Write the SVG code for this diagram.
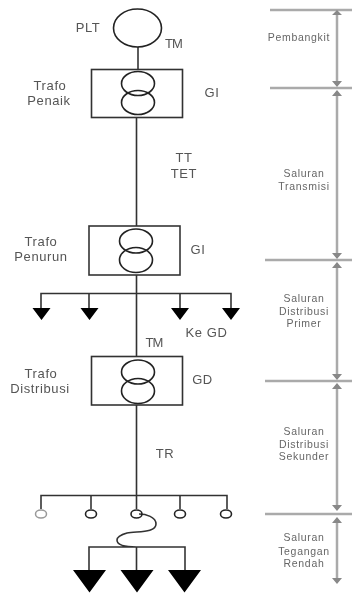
<svg xmlns="http://www.w3.org/2000/svg" width="352" height="593" viewBox="0 0 352 593">
<defs><filter id="b" x="-5%" y="-5%" width="110%" height="110%"><feGaussianBlur stdDeviation="0.45"/></filter></defs>
<style>
.s{fill:none;stroke:#333;stroke-width:1.6}
.c{fill:none;stroke:#222;stroke-width:1.6}
.g{fill:none;stroke:#aaa;stroke-width:2.500}
.a{fill:#888}
.k{fill:#000}
text{font-family:"Liberation Sans",Arial,sans-serif;font-size:13px;letter-spacing:.6px;fill:#555;text-anchor:middle}
.r{font-size:10.500px;letter-spacing:.7px;fill:#666}
.t{font-size:13px;letter-spacing:-1px}
</style>
<rect width="352" height="593" fill="#fff"/>
<g filter="url(#b)">
<g id="connectors">
<path class="s" d="M138 47V70M136.500 117V226M136.500 275V356M136.500 405V495"/>
<path class="s" d="M41 308V293.500H231V308M89 293.500V308M180 293.500V308"/>
<path class="s" d="M41 509V495.500H227V509M91 495.500V509M136.500 495.500V509M180 495.500V509"/>
<path class="s" d="M139 514C146 514 156 517 156 524C156 533 137 531 127 533C120 535 117 537 117 540C117 545 125 547 136.500 547M89 570V547H185V570M136.500 547V570"/>
<path class="g" d="M337 14V82M337 94V254M337 266V375M337 387V508M337 520V580"/>
<path class="g" d="M270 10H352M270 88H352M265 260H352M265 381H352M265 514H352"/>
<path class="a" d="M337 10l-5 5h10zM337 87l-5-6h10zM337 90l-5 6h10zM337 259l-5-6h10zM337 262l-5 6h10zM337 380l-5-6h10zM337 383l-5 6h10zM337 511l-5-6h10zM337 517l-5 6h10zM337 584l-5-6h10z"/>
</g>
<g id="plt"><ellipse class="c" cx="137.500" cy="28" rx="24" ry="19"/><text x="88" y="32">PLT</text><text class="t" x="173.500" y="48">TM</text></g>
<g id="trafo-penaik"><rect class="s" x="91.500" y="69.500" width="91" height="48"/><ellipse class="c" cx="138" cy="83.500" rx="16.500" ry="12"/><ellipse class="c" cx="138" cy="102.500" rx="16.500" ry="12"/><text x="50" y="90">Trafo</text><text x="49" y="105">Penaik</text><text x="212" y="97">GI</text></g>
<g id="tt-label"><text x="184" y="162">TT</text><text x="184" y="177.500">TET</text></g>
<g id="trafo-penurun"><rect class="s" x="89" y="226" width="91" height="49"/><ellipse class="c" cx="136" cy="241" rx="16.500" ry="12"/><ellipse class="c" cx="136" cy="260" rx="16.500" ry="12.500"/><text x="41" y="246">Trafo</text><text x="41" y="261">Penurun</text><text x="198" y="254">GI</text></g>
<g id="beban-gi"><path class="k" d="M32.500 308h18l-9 12zM80.500 308h18l-9 12zM171 308h18l-9 12zM222 308h18l-9 12z"/><text x="206.500" y="337">Ke GD</text><text class="t" x="154" y="347">TM</text></g>
<g id="trafo-distribusi"><rect class="s" x="91.500" y="356.500" width="91" height="48.500"/><ellipse class="c" cx="138" cy="372" rx="16.500" ry="12"/><ellipse class="c" cx="138" cy="391" rx="16.500" ry="12.500"/><text x="41" y="378">Trafo</text><text x="40" y="393">Distribusi</text><text x="202.500" y="384">GD</text></g>
<g id="tr-label"><text x="165" y="458">TR</text></g>
<g id="beban-tr"><ellipse cx="41" cy="514" rx="5.500" ry="4" fill="#fff" stroke="#999" stroke-width="1.500"/><ellipse class="c" cx="91" cy="514" rx="5.500" ry="4"/><ellipse class="c" cx="136.500" cy="514" rx="5.500" ry="4"/><ellipse class="c" cx="180" cy="514" rx="5.500" ry="4"/><ellipse class="c" cx="226" cy="514" rx="5.500" ry="4"/></g>
<g id="beban-tr-bawah"><path class="k" d="M73 570h33l-16.500 22.500zM120.500 570h33l-16.500 22.500zM168 570h33l-16.500 22.500z"/></g>
<g id="sisi-label">
<text class="r" x="299" y="41">Pembangkit</text>
<text class="r" x="304" y="177">Saluran</text><text class="r" x="304" y="190">Transmisi</text>
<text class="r" x="304" y="302">Saluran</text><text class="r" x="304" y="314.500">Distribusi</text><text class="r" x="304" y="327">Primer</text>
<text class="r" x="304" y="435">Saluran</text><text class="r" x="304" y="447.500">Distribusi</text><text class="r" x="304" y="460">Sekunder</text>
<text class="r" x="304" y="541">Saluran</text><text class="r" x="304" y="554.500">Tegangan</text><text class="r" x="304" y="567">Rendah</text>
</g>
</g>
</svg>
